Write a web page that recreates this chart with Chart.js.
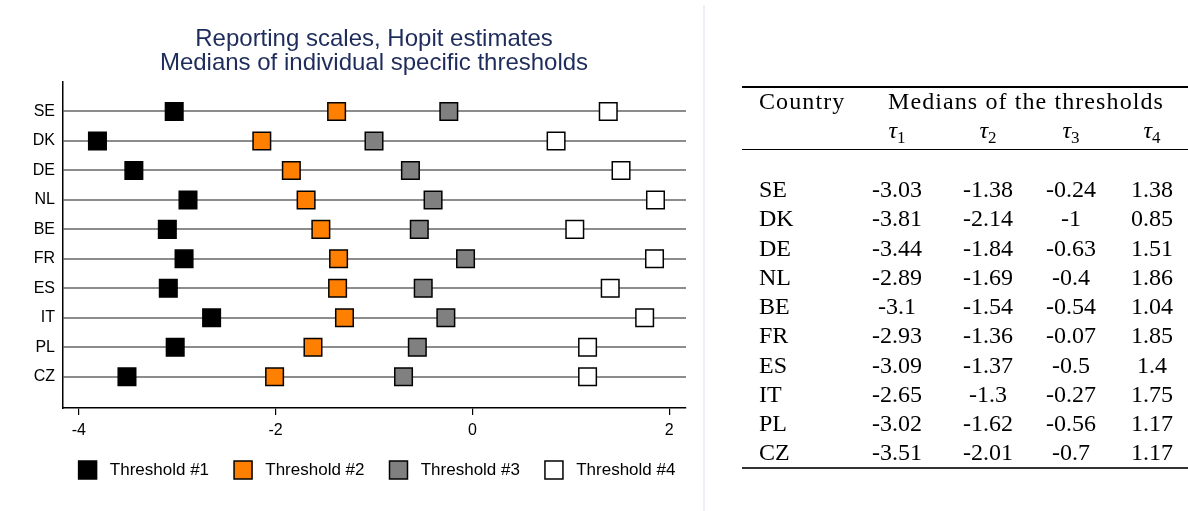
<!DOCTYPE html>
<html><head><meta charset="utf-8">
<script src="https://cdn.jsdelivr.net/npm/chart.js@4.4.1/dist/chart.umd.min.js"></script>
<style>
html,body{margin:0;padding:0;background:#fff;width:1188px;height:511px;overflow:hidden;}
#wrap{position:absolute;left:0;top:0;width:748px;height:511px;z-index:1}
#sep{position:absolute;left:703px;top:5px;width:2px;height:506px;background:#edf1f5;z-index:2}
#tbl{position:absolute;left:0;top:0;width:1188px;height:511px;z-index:3;font-family:"Liberation Serif","Times New Roman",serif;font-size:24px;color:#000;pointer-events:none}
.t{position:absolute;line-height:24px;white-space:nowrap}
.c{transform:translateX(-50%)}
.w{letter-spacing:1.1px}
.rule{position:absolute;left:742px;width:446px}
</style></head><body>
<div id="wrap"><canvas id="c" width="748" height="511"></canvas></div>
<div id="sep"></div>
<div id="tbl"></div>
<script>
// ---- data ----
const countries = ["SE","DK","DE","NL","BE","FR","ES","IT","PL","CZ"];
const tau1 = [-3.03,-3.81,-3.44,-2.89,-3.1,-2.93,-3.09,-2.65,-3.02,-3.51];
const tau2 = [-1.38,-2.14,-1.84,-1.69,-1.54,-1.36,-1.37,-1.3,-1.62,-2.01];
const tau3 = [-0.24,-1,-0.63,-0.4,-0.54,-0.07,-0.5,-0.27,-0.56,-0.7];
const tau4 = [1.38,0.85,1.51,1.86,1.04,1.85,1.4,1.75,1.17,1.17];
const seriesLabels = ["Threshold #1","Threshold #2","Threshold #3","Threshold #4"];
const seriesColors = ["#000000","#ff7f00","#808080","#ffffff"];
const xTicks = [-4,-2,0,2];
const titleLines = ["Reporting scales, Hopit estimates","Medians of individual specific thresholds"];
const tableHeader = "Country";
const tableGroupHeader = "Medians of the thresholds";

// ---- chart ----
const allSeries = [tau1,tau2,tau3,tau4];
const datasets = allSeries.map((vals,k)=>({
  label: seriesLabels[k],
  data: vals.map((v,i)=>({x:v, y:i+1})),
  backgroundColor: seriesColors[k],
  borderColor: "#000000",
  borderWidth: 1.5,
  pointStyle: "rect",
  pointRadius: 12.4,
  pointHoverRadius: 12.4,
  showLine: false
}));

const FONT = "'Liberation Sans', Arial, sans-serif";
const shiftLegend = {
  id: "shiftLegend",
  afterLayout(chart){ if(chart.legend){ chart.legend.left += 3; chart.legend.right += 3; } }
};

new Chart(document.getElementById("c"), {
  type: "scatter",
  data: { datasets },
  plugins: [shiftLegend],
  options: {
    responsive: false,
    animation: false,
    events: [],
    layout: { padding: { left: 0, right: 0, top: 0, bottom: 22 } },
    plugins: {
      tooltip: { enabled: false },
      title: {
        display: true,
        text: titleLines,
        color: "#1e2c5b",
        font: { family: FONT, size: 24, weight: "normal", lineHeight: 1.0 },
        padding: { top: 27, bottom: 7 }
      },
      legend: {
        position: "bottom",
        labels: {
          color: "#000",
          font: { family: FONT, size: 17 },
          boxWidth: 18,
          boxHeight: 18,
          padding: 25,
          generateLabels(chart){
            const items = Chart.defaults.plugins.legend.labels.generateLabels(chart);
            items.forEach(it => { it.text = " " + it.text; });
            return items;
          }
        }
      }
    },
    scales: {
      x: {
        type: "linear",
        min: -4.16, max: 2.17,
        afterBuildTicks(s){ s.ticks = xTicks.map(v=>({value:v})); },
        afterFit(s){ s.height = 28; },
        ticks: { color: "#000", font: { family: FONT, size: 16 }, padding: 6, maxRotation: 0,
                 callback: v => String(v) },
        grid: { drawOnChartArea: false, drawTicks: true, tickLength: 7, color: "#000", lineWidth: 1.2 },
        border: { display: true, color: "#000", width: 1.5 }
      },
      y: {
        type: "linear",
        reverse: true,
        min: 0, max: 11.06,
        afterBuildTicks(s){ s.ticks = countries.map((c,i)=>({value:i+1})); },
        afterFit(s){ s.width = 63; },
        ticks: { color: "#000", font: { family: FONT, size: 16 }, padding: 8,
                 callback: v => countries[v-1] ?? "" },
        grid: { drawTicks: false, color: "#8c8c8c", lineWidth: 2 },
        border: { display: true, color: "#000", width: 1.5 }
      },
      y2: {
        type: "linear",
        position: "right",
        display: true,
        afterFit(s){ s.width = 62; },
        ticks: { display: false },
        grid: { display: false },
        border: { display: false }
      }
    }
  }
});

// ---- table (text built from the same arrays) ----
const tbl = document.getElementById("tbl");
function addText(html, x, top, cls){
  const d = document.createElement("div");
  d.className = "t " + (cls||"");
  d.style.left = x + "px"; d.style.top = top + "px";
  d.innerHTML = html; tbl.appendChild(d);
}
function addRule(top, h, col){
  const d = document.createElement("div");
  d.className = "rule"; d.style.top = top + "px"; d.style.height = h + "px"; d.style.background = col;
  tbl.appendChild(d);
}
const colX = [897, 988, 1071, 1152];
addRule(86, 2, "#000");
addText(tableHeader, 759, 89, "w");
addText(tableGroupHeader, 1026, 89, "c w");
colX.forEach((x,k)=> addText("<i>τ</i><sub style='font-size:17px;vertical-align:-5px'>" + (k+1) + "</sub>", x, 118, "c"));
addRule(149, 1.2, "#000");
countries.forEach((c,i)=>{
  const top = 189 + i*29.25 - 12;
  addText(c, 759, top, "");
  allSeries.forEach((vals,k)=> addText(String(vals[i]), colX[k], top, "c"));
});
addRule(467, 2, "#333");
</script>
</body></html>
